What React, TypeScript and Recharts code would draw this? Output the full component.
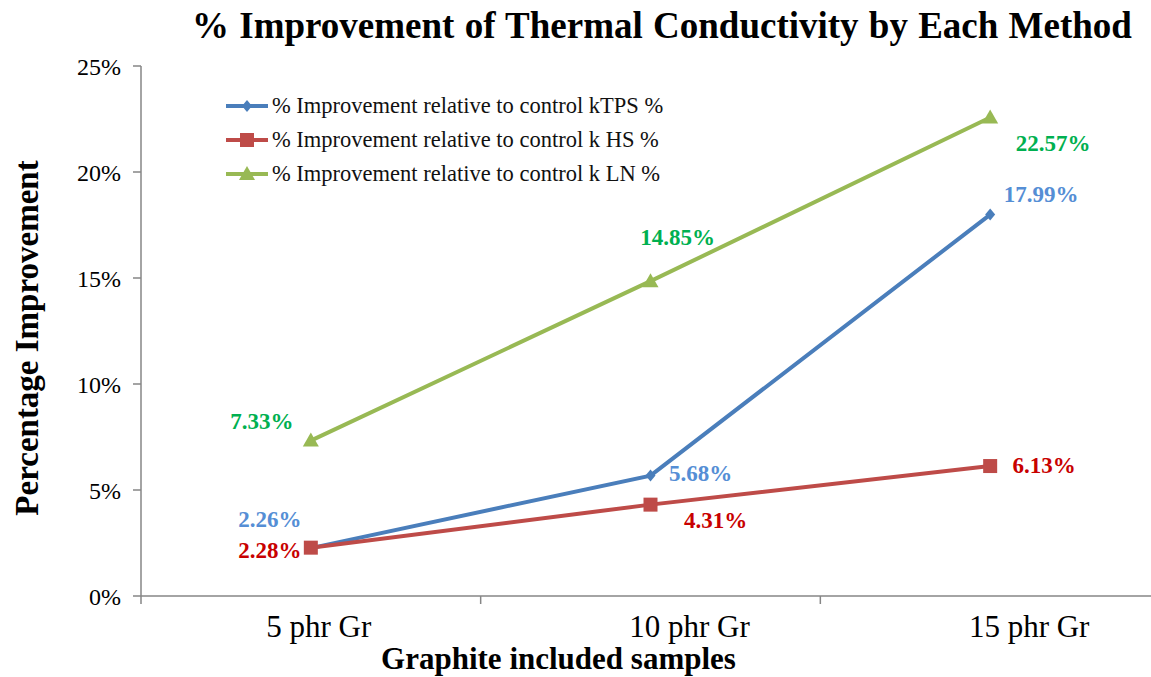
import { LineChart, Line, XAxis, YAxis, LabelList, Label } from "recharts";

const categories = ["5 phr Gr", "10 phr Gr", "15 phr Gr"];
const tpsValues = [2.26, 5.68, 17.99];
const hsValues = [2.28, 4.31, 6.13];
const lnValues = [7.33, 14.85, 22.57];
const yTicks = [0, 5, 10, 15, 20, 25];

const FONT = '"Liberation Serif", "Times New Roman", serif';
const AXIS = "#868686";
const CHART_W = 1162;
const CHART_H = 677;
const MARGIN = { top: 66, right: 2, bottom: 0, left: 0 };
const Y_W = 141;
const PLOT_W = CHART_W - Y_W - MARGIN.left - MARGIN.right;
const BAND = PLOT_W / categories.length;
// the category labels sit a little right of the band centres in the original
const TICK_SHIFT = [8, 39, 39];

const SERIES = [
  { key: "tps", label: "% Improvement relative to control kTPS %", color: "#4a7ebb", textColor: "#558ed5", shape: "diamond",
    offsets: [[-41, -26], [50, 0], [51, -18]] },
  { key: "hs", label: "% Improvement relative to control k HS %", color: "#be4b48", textColor: "#c80000", shape: "square",
    offsets: [[-41, 5], [65, 18], [54, 2]] },
  { key: "ln", label: "% Improvement relative to control k LN %", color: "#98b954", textColor: "#00b050", shape: "triangle",
    offsets: [[-49, -17], [27, -41], [63, 28]] },
];

const data = categories.map((c, i) => ({ name: c, tps: tpsValues[i], hs: hsValues[i], ln: lnValues[i] }));

function Marker({ cx, cy, shape, color }: { cx: number; cy: number; shape: string; color: string }) {
  if (cx == null || cy == null) return null;
  if (shape === "diamond") {
    return <path d={`M${cx},${cy - 6}L${cx + 5},${cy}L${cx},${cy + 6}L${cx - 5},${cy}Z`} fill={color} />;
  }
  if (shape === "square") {
    return <rect x={cx - 7} y={cy - 7} width={14} height={14} fill={color} />;
  }
  return <path d={`M${cx},${cy - 8}L${cx + 8},${cy + 6}L${cx - 8},${cy + 6}Z`} fill={color} />;
}

function XTick(props: any) {
  const { x, y, payload, index } = props;
  const left = x - BAND / 2;
  return (
    <g>
      <line x1={left} y1={y} x2={left} y2={y + 8} stroke={AXIS} strokeWidth={1.5} />
      {index === categories.length - 1 && (
        <line x1={x + BAND / 2} y1={y} x2={x + BAND / 2} y2={y + 8} stroke={AXIS} strokeWidth={1.5} />
      )}
      <text x={x + (TICK_SHIFT[index] || 0)} y={y + 41} textAnchor="middle" fontFamily={FONT} fontSize={31} fill="#000">
        {payload.value}
      </text>
    </g>
  );
}

function LegendBox() {
  return (
    <div style={{ position: "absolute", left: 224, top: 89, fontFamily: FONT, fontSize: 22.5, color: "#111", zIndex: 2 }}>
      {SERIES.map((s) => (
        <div key={s.key} style={{ display: "flex", alignItems: "center", height: 34 }}>
          <svg width={46} height={18} style={{ marginRight: 2 }}>
            <line x1={2} y1={9} x2={44} y2={9} stroke={s.color} strokeWidth={4} />
            <Marker cx={23} cy={9} shape={s.shape} color={s.color} />
          </svg>
          <span>{s.label}</span>
        </div>
      ))}
    </div>
  );
}

export default function App() {
  return (
    <div style={{ position: "absolute", left: 0, top: 0, width: 1151, height: 677, overflow: "hidden", background: "#fff" }}>
      <div
        style={{
          position: "absolute", left: 0, top: 4, width: 1324, textAlign: "center",
          fontFamily: FONT, fontWeight: "bold", fontSize: 37, color: "#000", zIndex: 2, wordSpacing: 1,
        }}
      >
        % Improvement of Thermal Conductivity by Each Method
      </div>
      <LegendBox />
      <LineChart width={CHART_W} height={CHART_H} data={data} margin={MARGIN}>
        <XAxis
          dataKey="name"
          scale="band"
          height={81}
          stroke={AXIS}
          strokeWidth={1.5}
          tickLine={false}
          tickSize={0}
          tickMargin={0}
          tick={<XTick />}
          interval={0}
        >
          <Label
            value="Graphite included samples"
            position="insideBottom"
            offset={8}
            dx={-92}
            style={{ fontFamily: FONT, fontWeight: "bold", fontSize: 31, fill: "#000" }}
          />
        </XAxis>
        <YAxis
          width={Y_W}
          domain={[0, 25]}
          ticks={yTicks}
          tickFormatter={(v: number) => `${v}%`}
          stroke={AXIS}
          strokeWidth={1.5}
          tickSize={8}
          tickMargin={12}
          tick={{ fontFamily: FONT, fontSize: 24, fill: "#000" }}
        >
          <Label
            value="Percentage Improvement"
            angle={-90}
            position="center"
            dx={-44}
            dy={7}
            style={{ fontFamily: FONT, fontWeight: "bold", fontSize: 33, fill: "#000", textAnchor: "middle" }}
          />
        </YAxis>
        {SERIES.map((s) => (
          <Line
            key={s.key}
            dataKey={s.key}
            name={s.label}
            stroke={s.color}
            strokeWidth={4}
            isAnimationActive={false}
            dot={(p: any) => <Marker key={`${s.key}-${p.index}`} cx={p.cx} cy={p.cy} shape={s.shape} color={s.color} />}
            activeDot={false}
          >
            <LabelList
              dataKey={s.key}
              content={(p: any) => {
                const off = s.offsets[p.index] || [0, 0];
                return (
                  <text
                    x={p.x + off[0]}
                    y={p.y + off[1]}
                    textAnchor="middle"
                    dominantBaseline="middle"
                    fontFamily={FONT}
                    fontWeight="bold"
                    fontSize={23}
                    fill={s.textColor}
                  >
                    {`${Number(p.value).toFixed(2)}%`}
                  </text>
                );
              }}
            />
          </Line>
        ))}
      </LineChart>
    </div>
  );
}
